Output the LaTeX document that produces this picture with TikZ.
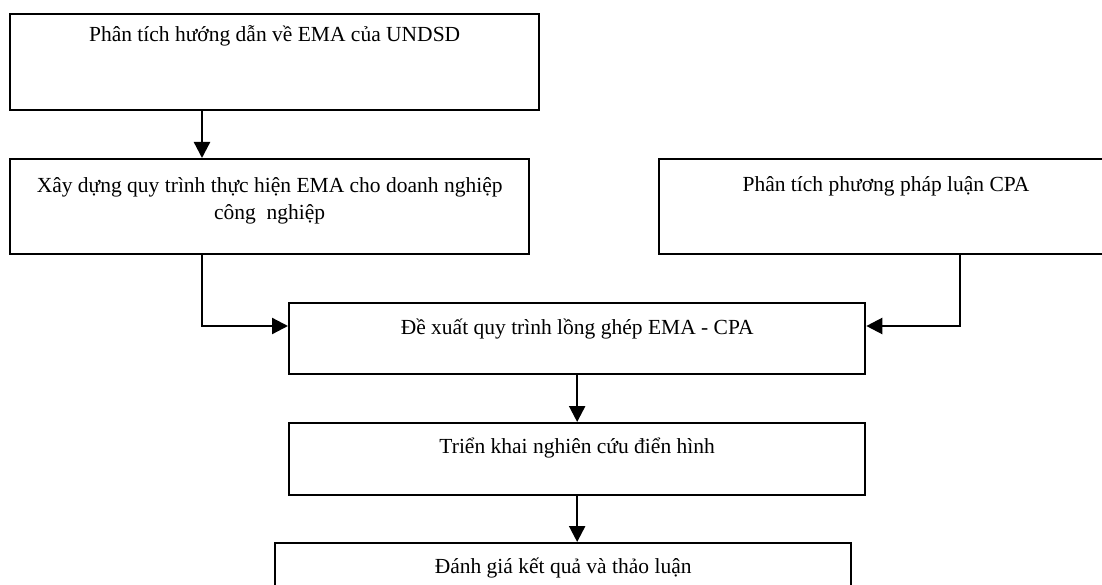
\documentclass[tikz,border=0pt]{standalone}
\usepackage{fontspec}
\setmainfont{Liberation Serif}
\usetikzlibrary{arrows.meta, positioning}

\tikzset{
  box/.style={draw, line width=2.3pt, anchor=north west, inner sep=0pt},
  lbl/.style={align=center, inner sep=0pt, font=\fontsize{21.5}{27}\selectfont},
}

\begin{document}
\begin{tikzpicture}[x=1pt, y=-1pt, >={Triangle[length=16pt, width=16pt]}, line width=2.3pt]
    \useasboundingbox (0,0) rectangle (1102,585);
    \clip (0,0) rectangle (1102,585);

    % Vẽ các khung
    \node[box, minimum width=529pt, minimum height=96pt] (ema) at (9,13) {};
    \node[box, minimum width=519pt, minimum height=95pt] (quytrinh) at (9,158) {};
    \node[box, minimum width=456pt, minimum height=95pt] (cpa) at (658,158) {};
    \node[box, minimum width=576pt, minimum height=71pt] (longghep) at (288,302) {};
    \node[box, minimum width=576pt, minimum height=72pt] (trienkhai) at (288,422) {};
    \node[box, minimum width=576pt, minimum height=72pt] (danhgia) at (274,542) {};

    % Chữ trong khung
    \node[lbl] (ematext) at ([yshift=-23pt]ema.north) {Phân tích hướng dẫn về EMA của UNDSD};
    \node[lbl] (quytrinhtext) at ([yshift=-43pt]quytrinh.north)
        {Xây dựng quy trình thực hiện EMA cho doanh nghiệp\\công\ \ nghiệp};
    \node[lbl] (cpatext) at ([xshift=228pt, yshift=-28pt]cpa.north west) {Phân tích phương pháp luận CPA};
    \node[lbl] (longgheptext) at ([yshift=-27pt]longghep.north) {Đề xuất quy trình lồng ghép EMA - CPA};
    \node[lbl] (trienkhaitext) at ([yshift=-26pt]trienkhai.north) {Triển khai nghiên cứu điển hình};
    \node[lbl] (danhgiatext) at ([yshift=-26pt]danhgia.north) {Đánh giá kết quả và thảo luận};

    % Các mũi tên
    \draw[->] ([xshift=193pt]ema.south west) -- ([xshift=193pt]quytrinh.north west);
    \draw[->] ([xshift=193pt]quytrinh.south west) |- ([yshift=-24pt]longghep.north west);
    \draw[->] ([xshift=302pt]cpa.south west) |- ([yshift=-24pt]longghep.north east);
    \draw[->] (longghep.south) -- (trienkhai.north);
    \draw[->] (trienkhai.south) -- (trienkhai.south |- danhgia.north);
\end{tikzpicture}
\end{document}
